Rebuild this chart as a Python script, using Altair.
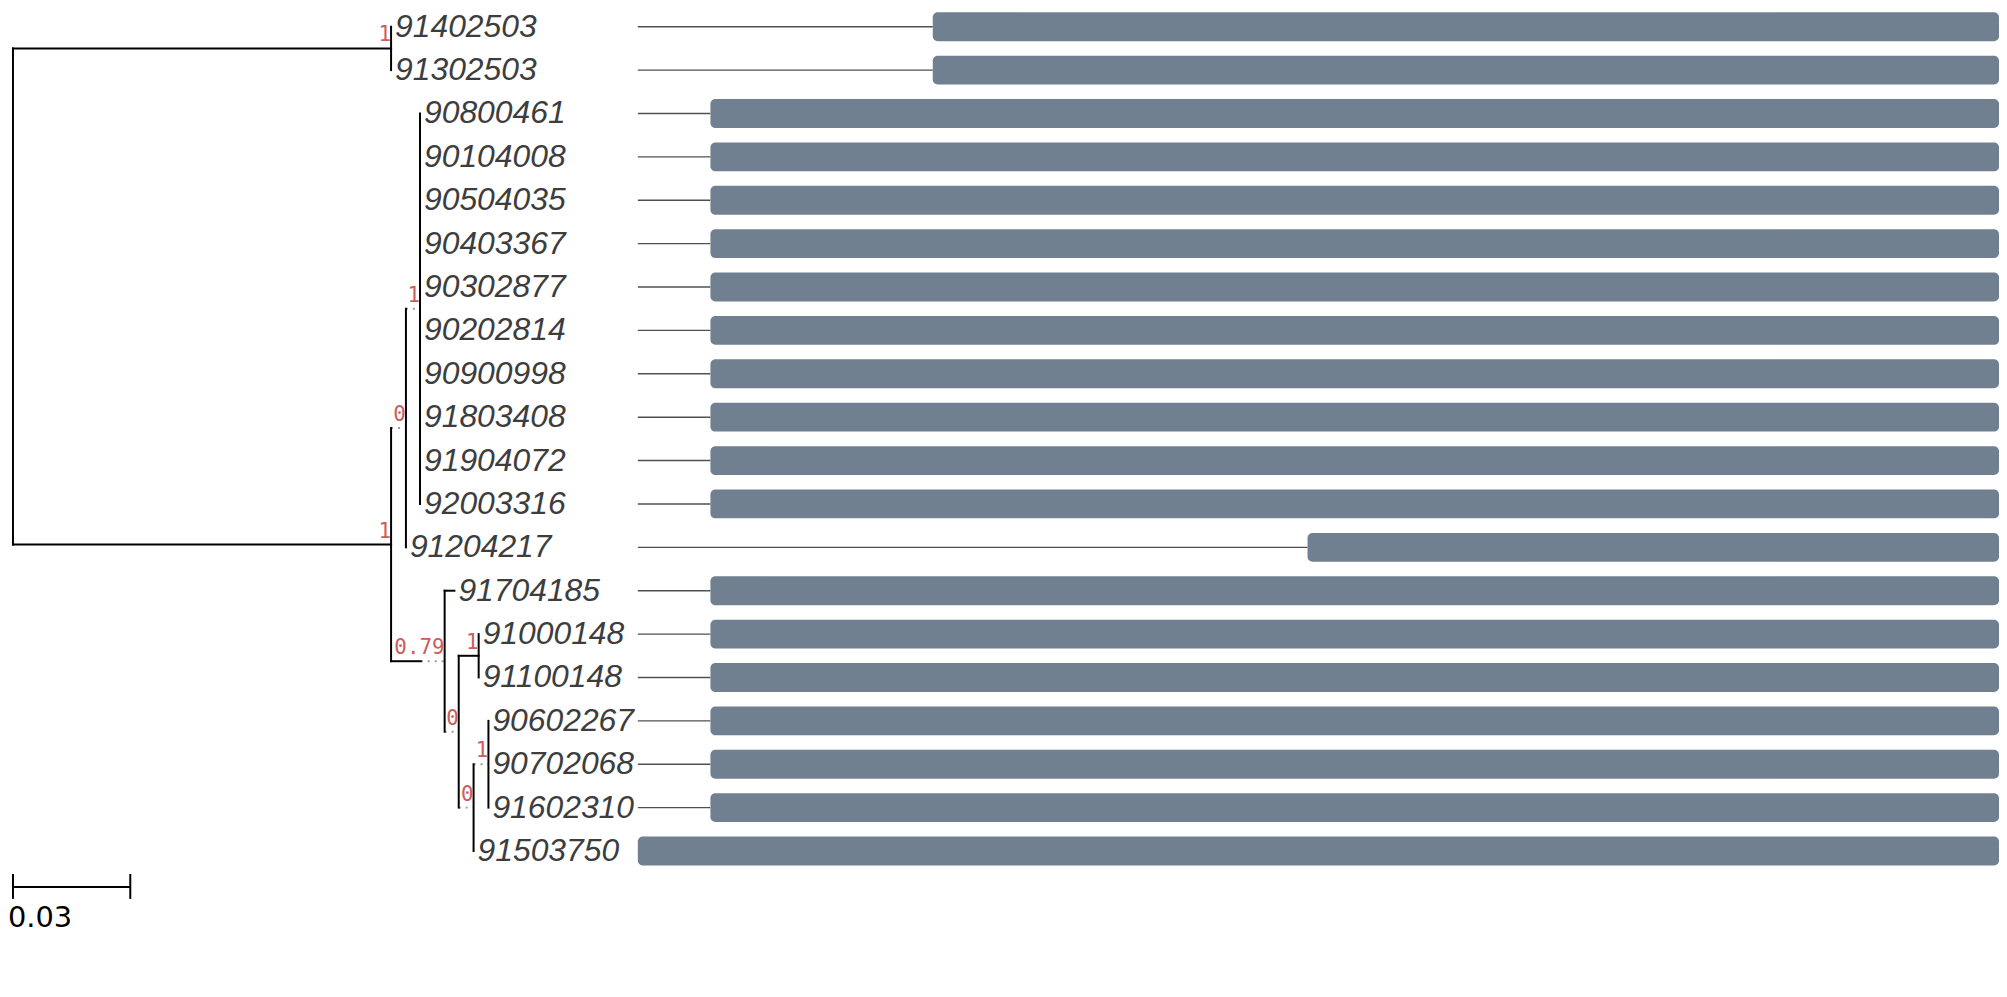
import altair as alt
import pandas as pd

# ---------------- data ----------------
tip_labels = ["91402503", "91302503", "90800461", "90104008", "90504035",
              "90403367", "90302877", "90202814", "90900998", "91803408",
              "91904072", "92003316", "91204217", "91704185", "91000148",
              "91100148", "90602267", "90702068", "91602310", "91503750"]

internal_ids = ["A", "B", "B1", "B1a", "B2", "B2b", "B2c", "B2d", "B2e"]
internal_parent = ["root", "root", "B", "B1", "B", "B2", "B2b", "B2b", "B2d"]
internal_branch = [0.0967, 0.0967, 0.0038, 0.0036, 0.0137, 0.0036, 0.0051, 0.0038, 0.0038]
internal_dotted = [0.0, 0.0, 0.0038, 0.0036, 0.0061, 0.0036, 0.0, 0.0038, 0.0038]
internal_support = ["1", "1", "0", "1", "0.79", "0", "1", "0", "1"]

tip_parent = ["A", "A"] + ["B1a"] * 10 + ["B1", "B2", "B2c", "B2c", "B2e", "B2e", "B2e", "B2d"]
tip_branch = [0.0, 0.0] + [0.0] * 10 + [0.0, 0.0025, 0.0, 0.0, 0.0, 0.0, 0.0, 0.0]

bar_start = [325, 325, 80, 80, 80, 80, 80, 80, 80, 80,
             80, 80, 738, 80, 80, 80, 80, 80, 80, 0]
bar_end = [1500] * 20

scale_bar_len = 0.03

# ---------------- tree layout ----------------
parent = dict(zip(internal_ids, internal_parent))
parent.update(zip(tip_labels, tip_parent))
blen = dict(zip(internal_ids, internal_branch))
blen.update(zip(tip_labels, tip_branch))
dotted = dict(zip(internal_ids, internal_dotted))
dotted.update({t: 0.0 for t in tip_labels})
children = {}
for n, p in parent.items():
    children.setdefault(p, []).append(n)

X = {"root": 0.0}
def set_x(n):
    for c in children.get(n, []):
        X[c] = X[n] + blen[c]
        set_x(c)
set_x("root")

Y = {t: float(i) for i, t in enumerate(tip_labels)}
def set_y(n):
    if n in Y:
        return Y[n]
    ys = [set_y(c) for c in children[n]]
    Y[n] = (min(ys) + max(ys)) / 2
    return Y[n]
set_y("root")

edges = []
for n, p in parent.items():
    edges.append({"x0": X[p], "x1": X[n], "xs": X[n] - dotted[n], "y": Y[n],
                  "solid": X[n] - dotted[n] - X[p], "dot": dotted[n]})
edges = pd.DataFrame(edges)

verts = pd.DataFrame([{"x": X[n], "y0": min(Y[c] for c in ch), "y1": max(Y[c] for c in ch)}
                      for n, ch in children.items()])

supports = pd.DataFrame({"x": [X[n] for n in internal_ids], "y": [Y[n] for n in internal_ids],
                         "label": internal_support})
tips = pd.DataFrame({"x": [X[t] for t in tip_labels], "y": [Y[t] for t in tip_labels],
                     "label": tip_labels})
bars = pd.DataFrame({"y": [Y[t] for t in tip_labels], "start": bar_start, "end": bar_end})
sbar = pd.DataFrame({"x0": [0.0], "x1": [scale_bar_len], "label": [f"{scale_bar_len:g}"]})

# ---------------- scales / layout ----------------
W1, W2, H = 629, 1368, 930
S = 380 / 0.0967          # pixels per substitution unit
STEP = 43.6               # pixels per row
x_tree = alt.Scale(domain=[-1 / S, (W1 - 1) / S], nice=False, zero=False, padding=0)
y_sc = alt.Scale(domain=[-15.5 / STEP, (H - 15.5) / STEP], reverse=True, nice=False,
                 zero=False, padding=0)
x_bar = alt.Scale(domain=[0, 1500], nice=False, zero=False, padding=0)

def XT(f):
    return alt.X(f, type="quantitative", scale=x_tree, axis=None)
def YT(f):
    return alt.Y(f, type="quantitative", scale=y_sc, axis=None)

h_solid = alt.Chart(edges).transform_filter("datum.solid > 0").mark_rule(
    color="black", strokeWidth=2, strokeCap="square").encode(x=XT("x0"), x2="xs:Q", y=YT("y"))
h_dot = alt.Chart(edges).transform_filter("datum.dot > 0").mark_rule(
    color="#9a9a9a", strokeWidth=2, strokeDash=[2, 5]).encode(x=XT("xs"), x2="x1:Q", y=YT("y"))
vlines = alt.Chart(verts).mark_rule(color="black", strokeWidth=2, strokeCap="square").encode(
    x=XT("x"), y=YT("y0"), y2="y1:Q")
sup = alt.Chart(supports).mark_text(align="right", baseline="alphabetic", dy=-7,
                                    font="DejaVu Sans Mono", fontSize=21, color="#CD5C5C").encode(
    x=XT("x"), y=YT("y"), text="label:N")
tiplab = alt.Chart(tips).mark_text(align="left", baseline="middle", dx=4, font="Liberation Sans",
                                   fontStyle="italic", fontSize=32, color="#3d3d3d").encode(
    x=XT("x"), y=YT("y"), text="label:N")
sb_line = alt.Chart(sbar).mark_rule(color="black", strokeWidth=2).encode(
    x=XT("x0"), x2="x1:Q", y=alt.value(880))
sb_t0 = alt.Chart(sbar).mark_rule(color="black", strokeWidth=2).encode(
    x=XT("x0"), y=alt.value(867), y2=alt.value(892))
sb_t1 = alt.Chart(sbar).mark_rule(color="black", strokeWidth=2).encode(
    x=XT("x1"), y=alt.value(867), y2=alt.value(892))
sb_text = alt.Chart(sbar).mark_text(align="left", baseline="top", font="DejaVu Sans",
                                    fontSize=29, color="black", dx=-5).encode(
    x=XT("x0"), y=alt.value(897), text="label:N")

tree = alt.layer(h_dot, h_solid, vlines, sup, tiplab, sb_line, sb_t0, sb_t1, sb_text).properties(
    width=W1, height=H)

conn = alt.Chart(bars).transform_filter("datum.start > 0").transform_calculate(origin="0").mark_rule(
    color="#505050", strokeWidth=1.4).encode(
    x=alt.X("origin:Q", scale=x_bar, axis=None), x2="start:Q", y=YT("y"))
barmk = alt.Chart(bars).mark_bar(orient="horizontal", height=29, cornerRadius=5, color="#708090").encode(
    x=alt.X("start:Q", scale=x_bar, axis=None), x2="end:Q", y=YT("y"))
right = alt.layer(conn, barmk).properties(width=W2, height=H)

chart = alt.hconcat(tree, right, spacing=0, bounds="flush").properties(
    padding=0, background="white").configure_view(stroke=None)

chart.save("out.html", embed_options={"renderer": "svg", "actions": False})
